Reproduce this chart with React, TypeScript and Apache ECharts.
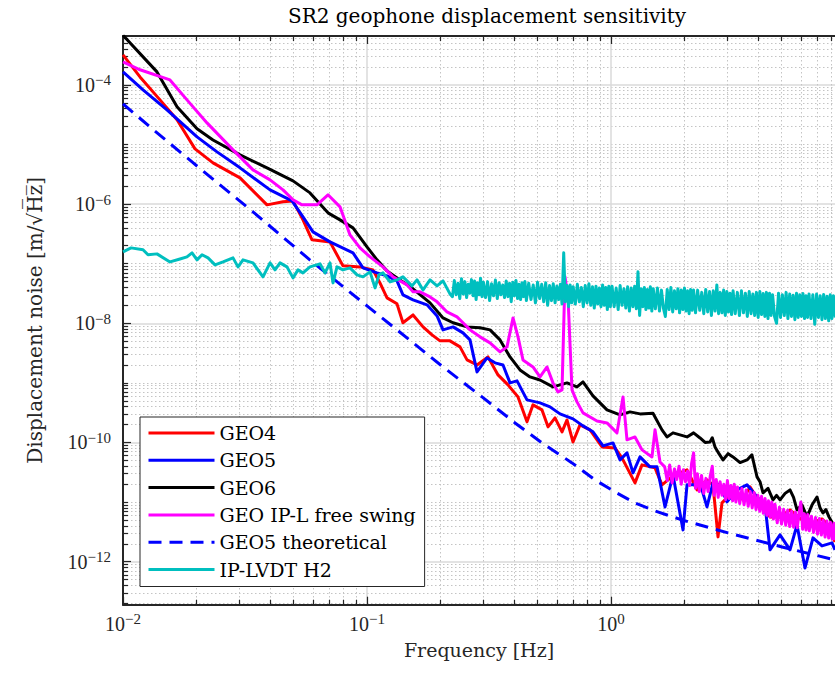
import React, { useEffect, useRef } from "react";
import * as echarts from "echarts";

// ---------------- data (frequency in Hz, displacement ASD in m/sqrt(Hz)) ----------------
const seriesNames = ["GEO4", "GEO5", "GEO6", "GEO IP-L free swing", "GEO5 theoretical", "IP-LVDT H2"];

const geo4Freq = [
  0.01, 0.01174, 0.01418, 0.01665, 0.01973, 0.02338, 0.03017, 0.03892, 0.04527, 0.04975,
  0.05465, 0.05951, 0.07052, 0.07971, 0.09361, 0.1058, 0.113, 0.1208, 0.1327, 0.1404,
  0.1544, 0.1697, 0.1847, 0.1992, 0.2188, 0.2405, 0.257, 0.2824, 0.3132, 0.3443,
  0.3784, 0.4158, 0.4526, 0.4789, 0.5215, 0.5519, 0.5897, 0.6299, 0.6602, 0.6988,
  0.7464, 0.8203, 0.9186, 1.038, 1.109, 1.254, 1.34, 1.515, 1.618, 1.795,
  2.049, 2.252, 2.474, 2.618, 2.745, 2.85, 3.224, 3.475, 3.712, 4.081,
  4.484, 4.928, 5.415, 6.065, 6.665, 7.324, 7.75, 8.28,
];
const geo4Asd = [
  3.18e-4, 1.36e-4, 5.6e-5, 2.59e-5, 8.43e-6, 4.91e-6, 2.75e-6, 9.7e-7, 1.09e-6, 1.13e-6,
  5.43e-7, 2.51e-7, 2.32e-7, 9.19e-8, 8.83e-8, 7.87e-8, 4.76e-8, 2.67e-8, 2.12e-8, 1.02e-8,
  1.38e-8, 8.7e-9, 6.38e-9, 5.07e-9, 5.07e-9, 4.02e-9, 2.43e-9, 2.0e-9, 2.73e-9, 1.36e-9,
  9.25e-10, 5.82e-10, 2.22e-10, 4.28e-10, 3.52e-10, 1.83e-10, 2.59e-10, 1.51e-10, 2.39e-10, 1.02e-10,
  1.97e-10, 1.63e-10, 8.43e-11, 8.1e-11, 5.52e-11, 2.1e-11, 4.21e-11, 3.75e-11, 1.95e-11, 2.75e-11,
  3.47e-11, 1.6e-11, 2.36e-11, 1.95e-11, 2.61e-12, 9.7e-12, 1.6e-11, 1.09e-11, 1.8e-11, 9.7e-12,
  5.65e-12, 5.65e-12, 7.4e-12, 5.02e-12, 4.48e-12, 5.22e-12, 4.14e-12, 2.15e-12,
];

const geo5Freq = [
  0.01, 0.01208, 0.01514, 0.02011, 0.02428, 0.03017, 0.04005, 0.04928, 0.05465, 0.06007,
  0.07052, 0.08762, 0.0963, 0.1099, 0.1208, 0.1327, 0.1404, 0.1544, 0.1762, 0.1937,
  0.2049, 0.2252, 0.2474, 0.2643, 0.2824, 0.3102, 0.3347, 0.3609, 0.3856, 0.412,
  0.4526, 0.5117, 0.5623, 0.618, 0.6988, 0.7677, 0.8437, 0.9273, 1.019, 1.089,
  1.163, 1.231, 1.315, 1.444, 1.544, 1.665, 1.795, 1.973, 2.049, 2.252,
  2.36, 2.474, 2.618, 2.797, 2.988, 3.284, 3.609, 3.967, 4.277, 4.484,
  4.928, 5.415, 5.786, 6.239, 6.728, 7.324, 8.05, 8.28,
];
const geo5Asd = [
  1.65e-4, 8.24e-5, 3.81e-5, 1.34e-5, 7.51e-6, 4.05e-6, 1.73e-6, 1.13e-6, 6.1e-7, 3.42e-7,
  2.32e-7, 1.52e-7, 8.5e-8, 7.01e-8, 6.24e-8, 5.14e-8, 3.0e-8, 2.47e-8, 2.04e-8, 1.33e-8,
  7.75e-9, 8.7e-9, 6.9e-9, 5.26e-9, 1.53e-9, 2.62e-9, 2.17e-9, 2.0e-9, 1.0e-9, 1.08e-9,
  5.19e-10, 4.62e-10, 3.96e-10, 3.02e-10, 2.49e-10, 1.9e-10, 1.51e-10, 8.77e-11, 9.84e-11, 5.1e-11,
  6.7e-11, 3.09e-11, 5.73e-11, 3.9e-11, 3.9e-11, 8.3e-12, 2.86e-11, 3.42e-12, 1.95e-11, 1.95e-11,
  1.6e-11, 8.3e-12, 2.1e-11, 1.95e-11, 1.01e-11, 1.6e-11, 1.95e-11, 1.22e-11, 8.98e-12, 1.58e-12,
  2.82e-12, 1.58e-12, 4.14e-12, 7.87e-13, 2.51e-12, 1.84e-12, 2.07e-12, 1.58e-12,
];

const geo6Freq = [
  0.01, 0.01378, 0.01665, 0.02011, 0.02338, 0.03017, 0.03892, 0.04975, 0.0584, 0.0692,
  0.07751, 0.08762, 0.1, 0.1099, 0.1208, 0.1365, 0.1544, 0.1813, 0.2049, 0.2252,
  0.257, 0.2905, 0.3193, 0.3509, 0.3856, 0.4237, 0.4656, 0.5117, 0.5784, 0.6602,
  0.7256, 0.7677, 0.8437, 0.963, 1.089, 1.197, 1.315, 1.486, 1.618, 1.696,
  1.795, 2.049, 2.18, 2.317, 2.43, 2.545, 2.6, 2.668, 2.77, 2.877,
  3.02, 3.162, 3.38, 3.609, 3.78, 3.967, 4.08, 4.198, 4.4, 4.613,
  4.77, 4.928, 5.17, 5.415, 5.6, 5.786, 6.06, 6.358, 6.67, 6.986,
  7.19, 7.394, 7.6, 7.823, 8.05, 8.28,
];
const geo6Asd = [
  6.8e-4, 1.65e-4, 4.28e-5, 1.83e-5, 1.19e-5, 6.69e-6, 4.05e-6, 2.45e-6, 1.54e-6, 7.12e-7,
  5.43e-7, 3.99e-7, 1.91e-7, 1.16e-7, 7.57e-8, 5.35e-8, 3.78e-8, 2.2e-8, 1.23e-8, 1.02e-8,
  8.7e-9, 8.4e-9, 7.75e-9, 5.26e-9, 2.73e-9, 1.65e-9, 1.26e-9, 1.12e-9, 8.57e-10, 1.0e-9,
  8.57e-10, 1.04e-9, 6.05e-10, 3.52e-10, 2.9e-10, 3.26e-10, 3.02e-10, 3.1e-10, 1.63e-10, 1.24e-10,
  1.45e-10, 1.24e-10, 1.45e-10, 1.19e-10, 1.0e-10, 1.02e-10, 1.2e-10, 8.43e-11, 6.5e-11, 5.1e-11,
  6.5e-11, 5.73e-11, 4.6e-11, 5.1e-11, 6.2e-11, 2.65e-11, 2.2e-11, 1.43e-11, 1.7e-11, 1.09e-11,
  1.3e-11, 1.09e-11, 1.4e-11, 1.6e-11, 1.2e-11, 7.4e-12, 9.0e-12, 5.65e-12, 9.0e-12, 1.22e-11,
  8.0e-12, 6.59e-12, 7.5e-12, 5.65e-12, 4.6e-12, 3.69e-12,
];

const ipFreeFreq = [
  0.01, 0.01174, 0.01558, 0.01829, 0.0221, 0.02824, 0.0341, 0.04005, 0.04527, 0.04975,
  0.05415, 0.06237, 0.0692, 0.07751, 0.08517, 0.09361, 0.1029, 0.1163, 0.1279, 0.1459,
  0.1544, 0.1649, 0.1813, 0.1937, 0.2128, 0.2338, 0.2474, 0.2643, 0.2905, 0.3193,
  0.3509, 0.3748, 0.3967, 0.4158, 0.4358, 0.4789, 0.5117, 0.5468, 0.5784, 0.6064,
  0.6299, 0.6479, 0.6664, 0.6921, 0.7256, 0.7677, 0.8762, 0.963, 1.058, 1.12,
  1.163, 1.254, 1.34, 1.472, 1.515, 1.588,
  1.66, 1.70, 1.74, 1.78, 1.82, 1.86, 1.90, 1.94, 1.98, 2.02,
  2.06, 2.10, 2.14, 2.18, 2.22, 2.26, 2.30,
  2.35, 2.40, 2.45, 2.50, 2.55, 2.60, 2.65, 2.70, 2.75, 2.80,
  2.85, 2.90, 2.95, 3.00, 3.05, 3.10, 3.15, 3.20, 3.25, 3.30,
  3.37, 3.44, 3.51, 3.58, 3.65, 3.72, 3.79, 3.86, 3.93, 4.0,
  4.07, 4.14, 4.21, 4.28, 4.35, 4.42, 4.49, 4.56, 4.63, 4.70,
  4.8, 4.9, 5.0, 5.1, 5.2, 5.3, 5.4, 5.5, 5.6, 5.7,
  5.8, 5.9, 6.0, 6.1, 6.2, 6.3, 6.4, 6.5,
  6.63, 6.76, 6.89, 7.02, 7.15, 7.28, 7.41, 7.54, 7.67, 7.8,
  7.93, 8.06, 8.19, 8.28,
];
const ipFreeAsd = [
  2.43e-4, 1.79e-4, 1.21e-4, 5.6e-5, 2.3e-5, 8.11e-6, 3.75e-6, 2.55e-6, 1.73e-6, 1.18e-6,
  9.7e-7, 9.7e-7, 1.43e-6, 8.98e-7, 3.04e-7, 1.84e-7, 1.3e-7, 8.83e-8, 6.01e-8, 4.41e-8,
  3.37e-8, 3.37e-8, 2.77e-8, 2.29e-8, 1.55e-8, 1.28e-8, 1.02e-8, 7.75e-9, 5.92e-9, 4.69e-9,
  3.31e-9, 4.02e-9, 1.23e-8, 5.92e-9, 2.43e-9, 1.85e-9, 1.26e-9, 1.85e-9, 1.0e-9, 7.06e-10,
  7.64e-10, 6.01e-8, 2.77e-8, 7.64e-10, 4.8e-10, 3.14e-10, 2.3e-10, 2.13e-10, 1.45e-10, 5.82e-10,
  1.11e-10, 1.24e-10, 7.52e-11, 5.73e-11, 1.63e-10, 4.72e-11,
  3.9e-11, 2.3e-11, 4.2e-11, 2.1e-11, 3.6e-11, 2.4e-11, 4.0e-11, 2.0e-11, 3.5e-11, 2.2e-11,
  3.3e-11, 1.9e-11, 4.5e-11, 6.7e-11, 1.7e-11, 3.0e-11, 1.5e-11,
  2.8e-11, 1.4e-11, 2.5e-11, 1.5e-11, 2.7e-11, 4.0e-11, 1.3e-11, 2.4e-11, 1.2e-11, 2.2e-11,
  1.3e-11, 2.0e-11, 1.1e-11, 2.3e-11, 1.15e-11, 1.9e-11, 1.05e-11, 2.0e-11, 1.0e-11, 1.8e-11,
  9.5e-12, 1.7e-11, 9.0e-12, 1.6e-11, 8.5e-12, 1.5e-11, 8.0e-12, 1.45e-11, 7.5e-12, 1.3e-11,
  7.0e-12, 1.25e-11, 6.5e-12, 1.15e-11, 6.0e-12, 1.05e-11, 5.6e-12, 1.0e-11, 5.2e-12, 9.2e-12,
  4.5e-12, 8.2e-12, 4.3e-12, 7.6e-12, 4.1e-12, 7.3e-12, 3.9e-12, 7.0e-12, 3.8e-12, 6.8e-12,
  3.7e-12, 6.6e-12, 1.0e-11, 3.5e-12, 6.4e-12, 3.4e-12, 6.2e-12, 3.3e-12,
  5.8e-12, 3.1e-12, 5.5e-12, 2.9e-12, 5.3e-12, 2.8e-12, 5.0e-12, 2.6e-12, 4.8e-12, 2.5e-12,
  4.6e-12, 2.4e-12, 4.4e-12, 2.3e-12,
];

const geo5TheoFreq = [
  0.01, 0.0129, 0.0194, 0.0341, 0.0583, 0.1, 0.1545, 0.205, 0.296, 0.4043,
  0.5215, 0.6921, 0.8597, 1.038, 1.254, 1.515, 1.954, 3.017, 5.022, 8.28,
];
const geo5TheoAsd = [
  4.8e-5, 1.97e-5, 4.9e-6, 7.4e-7, 1.16e-7, 1.96e-8, 4.7e-9, 1.85e-9, 5.82e-10, 2.13e-10,
  9.84e-11, 4.55e-11, 2.36e-11, 1.48e-11, 9.7e-12, 7.11e-12, 5.02e-12, 3.04e-12, 1.77e-12, 1.07e-12,
];

const lvdtFreq = [
  0.01, 0.01079, 0.01208, 0.01266, 0.01378, 0.01558, 0.01712, 0.01829, 0.01918, 0.02011,
  0.02108, 0.02231, 0.02383, 0.0257, 0.02824, 0.0296, 0.03103, 0.0341, 0.03748, 0.04005,
  0.04198, 0.044, 0.04699, 0.04975, 0.05214, 0.05465, 0.0584, 0.06416, 0.06728, 0.07052,
  0.07256, 0.07535, 0.07971, 0.08517, 0.09101, 0.0963, 0.1029, 0.1079, 0.112, 0.1163,
  0.1243, 0.1327, 0.1404, 0.1529, 0.1603, 0.1697, 0.1813, 0.1937, 0.2049, 0.2188,
  0.224, 0.228, 0.232, 0.236, 0.24, 0.244, 0.248, 0.252, 0.256, 0.26,
  0.264, 0.268, 0.272, 0.276, 0.28, 0.284, 0.288, 0.292, 0.296, 0.3,
  0.306, 0.312, 0.318, 0.324, 0.33, 0.336, 0.342, 0.348, 0.354, 0.36,
  0.366, 0.372, 0.378, 0.384, 0.39, 0.396, 0.402, 0.408, 0.414, 0.42,
  0.426, 0.432, 0.438, 0.444, 0.45,
  0.46, 0.47, 0.48, 0.49, 0.5, 0.51, 0.52, 0.53, 0.54, 0.55,
  0.56, 0.57, 0.58, 0.59, 0.6, 0.61, 0.62, 0.63, 0.64, 0.65,
  0.66, 0.67, 0.68, 0.69, 0.7,
  0.714, 0.728, 0.742, 0.756, 0.77, 0.784, 0.798, 0.812, 0.826, 0.84,
  0.854, 0.868, 0.882, 0.896, 0.91, 0.924, 0.938, 0.952, 0.966, 0.98,
  0.994,
  1.01, 1.03, 1.05, 1.07, 1.09, 1.11, 1.13, 1.15, 1.17, 1.19,
  1.21, 1.23, 1.25, 1.27, 1.29, 1.31, 1.33, 1.35, 1.37, 1.39,
  1.41, 1.43, 1.45, 1.47, 1.49,
  1.52, 1.55, 1.58, 1.61, 1.64, 1.67, 1.7, 1.73, 1.76, 1.79,
  1.82, 1.85, 1.88, 1.91, 1.94, 1.97, 2.0, 2.03, 2.06, 2.09,
  2.12, 2.15, 2.18,
  2.22, 2.265, 2.31, 2.355, 2.4, 2.445, 2.49, 2.535, 2.58, 2.625,
  2.67, 2.715, 2.76, 2.805, 2.85, 2.895, 2.94, 2.985, 3.03, 3.075,
  3.12, 3.165,
  3.23, 3.295, 3.36, 3.425, 3.49, 3.555, 3.62, 3.685, 3.75, 3.815,
  3.88, 3.945, 4.01, 4.075, 4.14, 4.205, 4.27, 4.335, 4.4, 4.465,
  4.53, 4.595,
  4.68, 4.77, 4.86, 4.95, 5.04, 5.13, 5.22, 5.31, 5.4, 5.49,
  5.58, 5.67, 5.76, 5.85, 5.94, 6.03, 6.12, 6.21, 6.3, 6.39,
  6.48,
  6.6, 6.72, 6.84, 6.96, 7.08, 7.2, 7.32, 7.44, 7.56, 7.68,
  7.8, 7.92, 8.04, 8.16, 8.3,
];
const lvdtAsd = [
  1.58e-7, 1.84e-7, 1.71e-7, 1.41e-7, 1.46e-7, 1.07e-7, 1.2e-7, 1.3e-7, 1.52e-7, 1.16e-7,
  1.41e-7, 1.25e-7, 9.55e-8, 1.07e-7, 1.25e-7, 8.83e-8, 1.16e-7, 1.03e-7, 6.01e-8, 1.03e-7,
  7.87e-8, 1.03e-7, 8.83e-8, 5.78e-8, 7.87e-8, 7.01e-8, 8.83e-8, 9.93e-8, 7.01e-8, 1.03e-7,
  4.76e-8, 8.83e-8, 7.87e-8, 8.5e-8, 6.49e-8, 6.01e-8, 7.28e-8, 3.93e-8, 6.49e-8, 7.01e-8,
  4.95e-8, 5.35e-8, 6.01e-8, 4.24e-8, 5.35e-8, 3.63e-8, 5.35e-8, 4.24e-8, 5.14e-8, 3.11e-8,
  2.8e-8, 5.2e-8, 3.0e-8, 4.7e-8, 2.6e-8, 5.6e-8, 3.1e-8, 5.0e-8, 2.7e-8, 4.5e-8,
  3.2e-8, 5.4e-8, 2.9e-8, 5.1e-8, 2.5e-8, 4.8e-8, 3.0e-8, 5.7e-8, 2.8e-8, 4.9e-8,
  2.7e-8, 5.0e-8, 2.4e-8, 4.6e-8, 2.9e-8, 5.3e-8, 2.6e-8, 4.8e-8, 3.0e-8, 4.4e-8,
  2.7e-8, 5.1e-8, 2.8e-8, 4.7e-8, 2.3e-8, 4.9e-8, 2.9e-8, 5.2e-8, 2.6e-8, 4.5e-8,
  2.5e-8, 4.8e-8, 2.8e-8, 5.0e-8, 2.4e-8,
  4.7e-8, 2.5e-8, 4.4e-8, 2.2e-8, 4.9e-8, 2.6e-8, 4.5e-8, 2.3e-8, 4.8e-8, 2.0e-8,
  4.3e-8, 2.4e-8, 4.6e-8, 2.2e-8, 4.2e-8, 2.5e-8, 4.5e-8, 2.1e-8, 1.52e-7, 2.3e-8,
  4.3e-8, 1.9e-8, 4.4e-8, 2.2e-8, 4.1e-8,
  2.1e-8, 4.5e-8, 2.3e-8, 4.0e-8, 1.9e-8, 4.3e-8, 2.2e-8, 4.6e-8, 2.0e-8, 4.1e-8,
  1.8e-8, 4.2e-8, 2.1e-8, 3.9e-8, 1.9e-8, 4.4e-8, 2.0e-8, 4.0e-8, 1.7e-8, 4.2e-8,
  1.9e-8,
  4.2e-8, 1.9e-8, 3.9e-8, 1.7e-8, 4.3e-8, 2.0e-8, 3.8e-8, 1.8e-8, 4.1e-8, 1.6e-8,
  3.9e-8, 1.9e-8, 4.2e-8, 1.75e-8, 7.3e-8, 1.35e-8, 3.8e-8, 1.9e-8, 4.0e-8, 1.7e-8,
  3.7e-8, 1.8e-8, 4.1e-8, 1.6e-8, 3.8e-8,
  1.75e-8, 3.9e-8, 1.6e-8, 3.6e-8, 1.8e-8, 1.3e-8, 3.7e-8, 1.7e-8, 4.0e-8, 1.55e-8,
  3.5e-8, 1.75e-8, 3.8e-8, 1.5e-8, 3.6e-8, 1.7e-8, 3.9e-8, 1.6e-8, 3.5e-8, 1.45e-8,
  3.7e-8, 1.65e-8, 3.6e-8,
  1.5e-8, 3.6e-8, 1.65e-8, 3.3e-8, 1.45e-8, 3.7e-8, 1.55e-8, 3.4e-8, 1.35e-8, 3.5e-8,
  1.6e-8, 4.4e-8, 1.45e-8, 3.3e-8, 1.5e-8, 3.6e-8, 1.35e-8, 3.4e-8, 1.55e-8, 3.2e-8,
  1.4e-8, 3.5e-8,
  1.45e-8, 3.3e-8, 1.35e-8, 3.5e-8, 1.5e-8, 3.2e-8, 1.3e-8, 3.4e-8, 1.45e-8, 3.1e-8,
  1.35e-8, 3.3e-8, 1.25e-8, 3.4e-8, 1.4e-8, 3.15e-8, 1.3e-8, 3.3e-8, 1.2e-8, 3.2e-8,
  1.35e-8, 3.0e-8,
  1.3e-8, 1.0e-8, 3.2e-8, 1.25e-8, 3.0e-8, 1.35e-8, 3.3e-8, 1.2e-8, 3.1e-8, 1.3e-8,
  2.95e-8, 1.15e-8, 3.2e-8, 1.25e-8, 3.0e-8, 1.3e-8, 3.15e-8, 1.2e-8, 2.9e-8, 1.25e-8,
  3.1e-8,
  1.2e-8, 3.0e-8, 9.6e-9, 3.1e-8, 1.25e-8, 2.9e-8, 1.15e-8, 3.05e-8, 1.2e-8, 2.85e-8,
  1.1e-8, 3.0e-8, 1.2e-8, 2.9e-8, 1.25e-8,
];

// axis limits and labelled decades
const xRange = [0.01, 8.28];
const yRange = [1.9e-13, 6.6e-4];
const xLabelDecades = [-2, -1, 0];
const yLabelDecades = [-12, -10, -8, -6, -4];

// ---------------- styling ----------------
const TEXT_FONT = '"DejaVu Serif", "Liberation Serif", serif';
const NUM_FONT = '"Liberation Serif", "DejaVu Serif", serif';
const INK = "#262626";

function toLogPairs(freq: number[], asd: number[]) {
  const n = Math.min(freq.length, asd.length);
  const out: number[][] = [];
  for (let i = 0; i < n; i++) out.push([Math.log10(freq[i]), Math.log10(asd[i])]);
  return out;
}

function decadeLabel(v: number) {
  const e = Math.round(v);
  return `{b|10}{sup|${e < 0 ? "\u2212" : ""}${Math.abs(e)}}`;
}

function buildOption() {
  const xMin = Math.log10(xRange[0]);
  const xMax = Math.log10(xRange[1]);
  const yMin = Math.log10(yRange[0]);
  const yMax = Math.log10(yRange[1]);

  const xMinor: number[] = [];
  for (let k = -2; k <= 0; k++)
    for (let m = 2; m <= 9; m++) {
      const p = Math.log10(m) + k;
      if (p > xMin && p < xMax) xMinor.push(p);
    }
  const yMinor: number[] = [];
  for (let k = -13; k <= -3; k++)
    for (let m = 1; m <= 9; m++) {
      if (m === 1 && k % 2 === 0) continue;
      const p = Math.log10(m) + k;
      if (p > yMin && p < yMax) yMinor.push(p);
    }

  const rich = {
    b: { fontFamily: NUM_FONT, fontSize: 20, lineHeight: 24, color: INK, verticalAlign: "middle" },
    sup: { fontFamily: NUM_FONT, fontSize: 15, lineHeight: 14, color: INK, verticalAlign: "top" },
  };
  const frameLine = { color: INK, width: 2 };
  const tickLine = { color: INK, width: 1.2 };
  const majorGrid = { show: true, lineStyle: { color: "#dadada", width: 1.5, type: "solid" } };
  const minorGrid = { show: true, lineStyle: { color: "#c4c4c4", width: 1, type: [1.5, 2.5] } };
  const nameStyle = { fontFamily: TEXT_FONT, fontSize: 19, color: INK };

  const xBase = { type: "value", gridIndex: 0, min: xMin, max: xMax };
  const yBase = { type: "value", gridIndex: 0, min: yMin, max: yMax };

  const mk = (name: string, freq: number[], asd: number[], color: string, dashed = false) => ({
    name,
    type: "line",
    xAxisIndex: 0,
    yAxisIndex: 0,
    data: toLogPairs(freq, asd),
    symbol: "none",
    showSymbol: false,
    silent: true,
    clip: true,
    z: 3,
    emphasis: { disabled: true },
    itemStyle: { color },
    lineStyle: { color, width: 3, type: dashed ? [13, 8] : "solid", join: "round", cap: "butt" },
  });

  return {
    animation: false,
    backgroundColor: "#ffffff",
    textStyle: { fontFamily: TEXT_FONT },
    title: {
      text: "SR2 geophone displacement sensitivity",
      left: 482,
      top: 1,
      textAlign: "center",
      textStyle: { fontFamily: TEXT_FONT, fontSize: 20, fontWeight: "normal", color: "#000" },
    },
    grid: { left: 123, top: 36, width: 712, height: 568.7, containLabel: false },
    legend: {
      orient: "vertical",
      left: 140,
      top: 417,
      padding: [6, 9, 7, 7],
      itemWidth: 66,
      itemHeight: 14,
      itemGap: 7.3,
      backgroundColor: "#ffffff",
      borderColor: INK,
      borderWidth: 1,
      borderRadius: 0,
      selectedMode: false,
      itemStyle: { opacity: 0 },
      lineStyle: { width: 3 },
      textStyle: { fontFamily: TEXT_FONT, fontSize: 19, lineHeight: 20, color: "#000" },
      data: seriesNames,
      z: 10,
    },
    xAxis: [
      {
        ...xBase,
        position: "bottom",
        axisLine: { show: true, onZero: false, lineStyle: frameLine },
        axisTick: { show: true, inside: true, length: 8, customValues: xLabelDecades, lineStyle: tickLine },
        axisLabel: { show: true, customValues: xLabelDecades, margin: 7, formatter: decadeLabel, rich },
        splitLine: majorGrid,
        name: "Frequency [Hz]",
        nameLocation: "middle",
        nameGap: 36,
        nameTextStyle: nameStyle,
      },
      {
        ...xBase,
        position: "bottom",
        axisLine: { show: false, onZero: false },
        axisTick: { show: true, inside: true, length: 5, customValues: xMinor, lineStyle: tickLine },
        axisLabel: { show: false },
        splitLine: minorGrid,
      },
      {
        ...xBase,
        position: "top",
        axisLine: { show: true, onZero: false, lineStyle: frameLine },
        axisTick: { show: true, inside: true, length: 8, customValues: xLabelDecades, lineStyle: tickLine },
        axisLabel: { show: false },
        splitLine: { show: false },
      },
      {
        ...xBase,
        position: "top",
        axisLine: { show: false, onZero: false },
        axisTick: { show: true, inside: true, length: 5, customValues: xMinor, lineStyle: tickLine },
        axisLabel: { show: false },
        splitLine: { show: false },
      },
    ],
    yAxis: [
      {
        ...yBase,
        position: "left",
        axisLine: { show: true, onZero: false, lineStyle: frameLine },
        axisTick: { show: true, inside: true, length: 8, customValues: yLabelDecades, lineStyle: tickLine },
        axisLabel: { show: true, customValues: yLabelDecades, margin: 12, formatter: decadeLabel, rich },
        splitLine: majorGrid,
        name: "Displacement noise [m/\u221AH\u0305z\u0305]",
        nameLocation: "middle",
        nameRotate: 90,
        nameGap: 78,
        nameTextStyle: { ...nameStyle, fontSize: 20 },
      },
      {
        ...yBase,
        position: "left",
        axisLine: { show: false, onZero: false },
        axisTick: { show: true, inside: true, length: 5, customValues: yMinor, lineStyle: tickLine },
        axisLabel: { show: false },
        splitLine: minorGrid,
      },
    ],
    series: [
      mk(seriesNames[0], geo4Freq, geo4Asd, "#ff0000"),
      mk(seriesNames[1], geo5Freq, geo5Asd, "#0000ff"),
      mk(seriesNames[2], geo6Freq, geo6Asd, "#000000"),
      mk(seriesNames[3], ipFreeFreq, ipFreeAsd, "#ff00ff"),
      mk(seriesNames[4], geo5TheoFreq, geo5TheoAsd, "#0000ff", true),
      mk(seriesNames[5], lvdtFreq, lvdtAsd, "#00bfbf"),
    ],
  };
}

export default function App() {
  const ref = useRef<HTMLDivElement>(null);
  useEffect(() => {
    if (!ref.current) return;
    const chart = echarts.init(ref.current, undefined, { renderer: "svg" });
    chart.setOption(buildOption() as any);
    return () => chart.dispose();
  }, []);
  return (
    <div
      ref={ref}
      style={{ position: "absolute", left: 0, top: 0, width: 835, height: 673, background: "#ffffff" }}
    />
  );
}
